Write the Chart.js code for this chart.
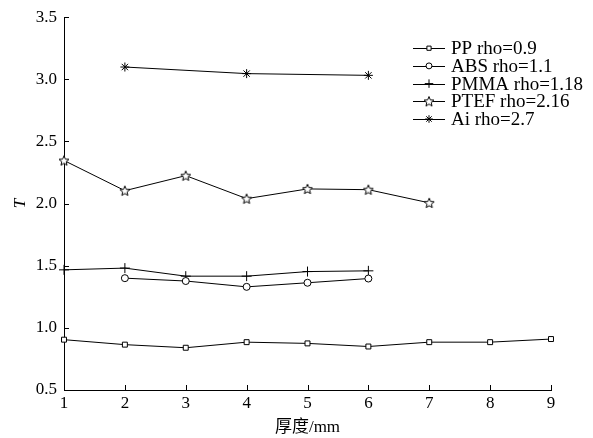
<!DOCTYPE html>
<html>
<head>
<meta charset="utf-8">
<script src="https://cdn.jsdelivr.net/npm/chart.js@4/dist/chart.umd.min.js"></script>
<style>
  html, body { margin: 0; padding: 0; background: #fff; }
  #wrap { width: 593px; height: 438px; position: relative; }
</style>
</head>
<body>
<div id="wrap"><canvas id="c" width="593" height="438"></canvas></div>
<script>
// ---- Data ----
const thicknessTicks = [1, 2, 3, 4, 5, 6, 7, 8, 9];
const yTicks = [0.5, 1.0, 1.5, 2.0, 2.5, 3.0, 3.5];

const ppX = [1, 2, 3, 4, 5, 6, 7, 8, 9];
const ppY = [0.905, 0.865, 0.84, 0.885, 0.875, 0.85, 0.885, 0.885, 0.91];

const absX = [2, 3, 4, 5, 6];
const absY = [1.40, 1.377, 1.33, 1.363, 1.397];

const pmmaX = [1, 2, 3, 4, 5, 6];
const pmmaY = [1.467, 1.481, 1.416, 1.416, 1.453, 1.459];

const ptefX = [1, 2, 3, 4, 5, 6, 7];
const ptefY = [2.347, 2.104, 2.225, 2.04, 2.118, 2.112, 2.006];

const aiX = [2, 4, 6];
const aiY = [3.099, 3.046, 3.032];

const seriesNames = ["PP rho=0.9", "ABS rho=1.1", "PMMA rho=1.18", "PTEF rho=2.16", "Ai rho=2.7"];
const xTitle = "厚度/mm";
const yTitle = "T";

// ---- helpers ----
const SERIF = "'Liberation Serif', 'Times New Roman', 'Noto Sans CJK SC', serif";
function pts(xs, ys) { return xs.map((x, i) => ({ x: x, y: ys[i] })); }

// five-point star marker
function makeStar(size) {
  const c = document.createElement('canvas');
  c.width = size; c.height = size;
  const g = c.getContext('2d');
  const cx = size / 2, cy = size / 2 + 0.5, R = size / 2 - 0.8, r = R * 0.45;
  g.beginPath();
  for (let i = 0; i < 10; i++) {
    const a = -Math.PI / 2 + i * Math.PI / 5;
    const rad = i % 2 === 0 ? R : r;
    const px = cx + rad * Math.cos(a), py = cy + rad * Math.sin(a);
    if (i === 0) g.moveTo(px, py); else g.lineTo(px, py);
  }
  g.closePath();
  g.fillStyle = '#fff';
  g.fill();
  g.lineWidth = 1;
  g.strokeStyle = '#000';
  g.stroke();
  return c;
}
const starImg = makeStar(12);

function ds(label, data, style, radius) {
  return {
    label: label,
    data: data,
    borderColor: '#000',
    borderWidth: 1,
    backgroundColor: '#fff',
    pointStyle: style,
    pointRadius: radius,
    pointBorderColor: '#000',
    pointBackgroundColor: '#fff',
    pointBorderWidth: 1,
    tension: 0,
    fill: false,
    clip: false
  };
}

const datasets = [
  ds(seriesNames[0], pts(ppX, ppY), 'rect', 3.5),
  ds(seriesNames[1], pts(absX, absY), 'circle', 3.5),
  ds(seriesNames[2], pts(pmmaX, pmmaY), 'cross', 5),
  ds(seriesNames[3], pts(ptefX, ptefY), starImg, 6),
  ds(seriesNames[4], pts(aiX, aiY), 'star', 4.5)
];

// inward ticks plugin
const inwardTicks = {
  id: 'inwardTicks',
  afterDraw(chart) {
    const ctx = chart.ctx;
    const xs = chart.scales.x, ys = chart.scales.y;
    const a = chart.chartArea;
    ctx.save();
    ctx.strokeStyle = '#000';
    ctx.lineWidth = 1;
    ctx.beginPath();
    xs.ticks.forEach((t) => {
      const px = Math.round(xs.getPixelForValue(t.value)) + 0.5;
      ctx.moveTo(px, a.bottom);
      ctx.lineTo(px, a.bottom - 5);
    });
    ys.ticks.forEach((t) => {
      const py = Math.round(ys.getPixelForValue(t.value)) + 0.5;
      ctx.moveTo(a.left, py);
      ctx.lineTo(a.left + 5, py);
    });
    ctx.stroke();
    ctx.restore();
  }
};

// legend plugin: line + marker + text
const lineLegend = {
  id: 'lineLegend',
  afterDraw(chart) {
    const ctx = chart.ctx;
    const a = chart.chartArea;
    const x0 = a.right - 138, x1 = x0 + 32, tx = x1 + 6;
    let y = a.top + 31;
    ctx.save();
    ctx.font = "19px " + SERIF;
    ctx.textBaseline = 'middle';
    chart.data.datasets.forEach((d) => {
      ctx.strokeStyle = '#000';
      ctx.lineWidth = 1;
      ctx.beginPath();
      ctx.moveTo(x0, Math.round(y) + 0.5);
      ctx.lineTo(x1, Math.round(y) + 0.5);
      ctx.stroke();
      const cx = (x0 + x1) / 2;
      if (d.pointStyle instanceof HTMLCanvasElement) {
        ctx.drawImage(d.pointStyle, cx - d.pointStyle.width / 2, y - d.pointStyle.height / 2);
      } else {
        ctx.fillStyle = '#fff';
        ctx.strokeStyle = '#000';
        Chart.helpers.drawPoint(ctx, {
          pointStyle: d.pointStyle, radius: d.pointRadius * 0.85, borderWidth: 1, rotation: 0
        }, cx, y);
      }
      ctx.fillStyle = '#000';
      ctx.fillText(d.label, tx, y + 1);
      y += 17.7;
    });
    ctx.restore();
  }
};

new Chart(document.getElementById('c'), {
  type: 'line',
  data: { datasets: datasets },
  options: {
    responsive: false,
    animation: false,
    devicePixelRatio: 1,
    layout: { padding: { top: 17, right: 42, left: 10, bottom: 0 } },
    plugins: {
      legend: { display: false },
      tooltip: { enabled: false }
    },
    scales: {
      x: {
        type: 'linear',
        min: thicknessTicks[0],
        max: thicknessTicks[thicknessTicks.length - 1],
        afterBuildTicks(s) { s.ticks = thicknessTicks.map(v => ({ value: v })); },
        afterFit(s) { s.height = 48; },
        grid: { display: false, drawTicks: false },
        border: { display: true, color: '#000', width: 1 },
        ticks: {
          color: '#000',
          font: { family: SERIF, size: 17 },
          padding: 3,
          maxRotation: 0,
          autoSkip: false
        },
        title: {
          display: true,
          text: xTitle,
          color: '#000',
          font: { family: SERIF, size: 17 },
          padding: { top: 0, bottom: 0 }
        }
      },
      y: {
        type: 'linear',
        min: yTicks[0],
        max: yTicks[yTicks.length - 1],
        afterBuildTicks(s) { s.ticks = yTicks.map(v => ({ value: v })); },
        afterFit(s) { s.width = 54; },
        grid: { display: false, drawTicks: false },
        border: { display: true, color: '#000', width: 1 },
        ticks: {
          color: '#000',
          font: { family: SERIF, size: 17 },
          padding: 7,
          callback: (v) => Number(v).toFixed(1)
        },
        title: {
          display: true,
          text: yTitle,
          color: '#000',
          font: { family: SERIF, size: 17, style: 'italic' },
          padding: { top: 0, bottom: 0 }
        }
      }
    }
  },
  plugins: [inwardTicks, lineLegend]
});
</script>
</body>
</html>
